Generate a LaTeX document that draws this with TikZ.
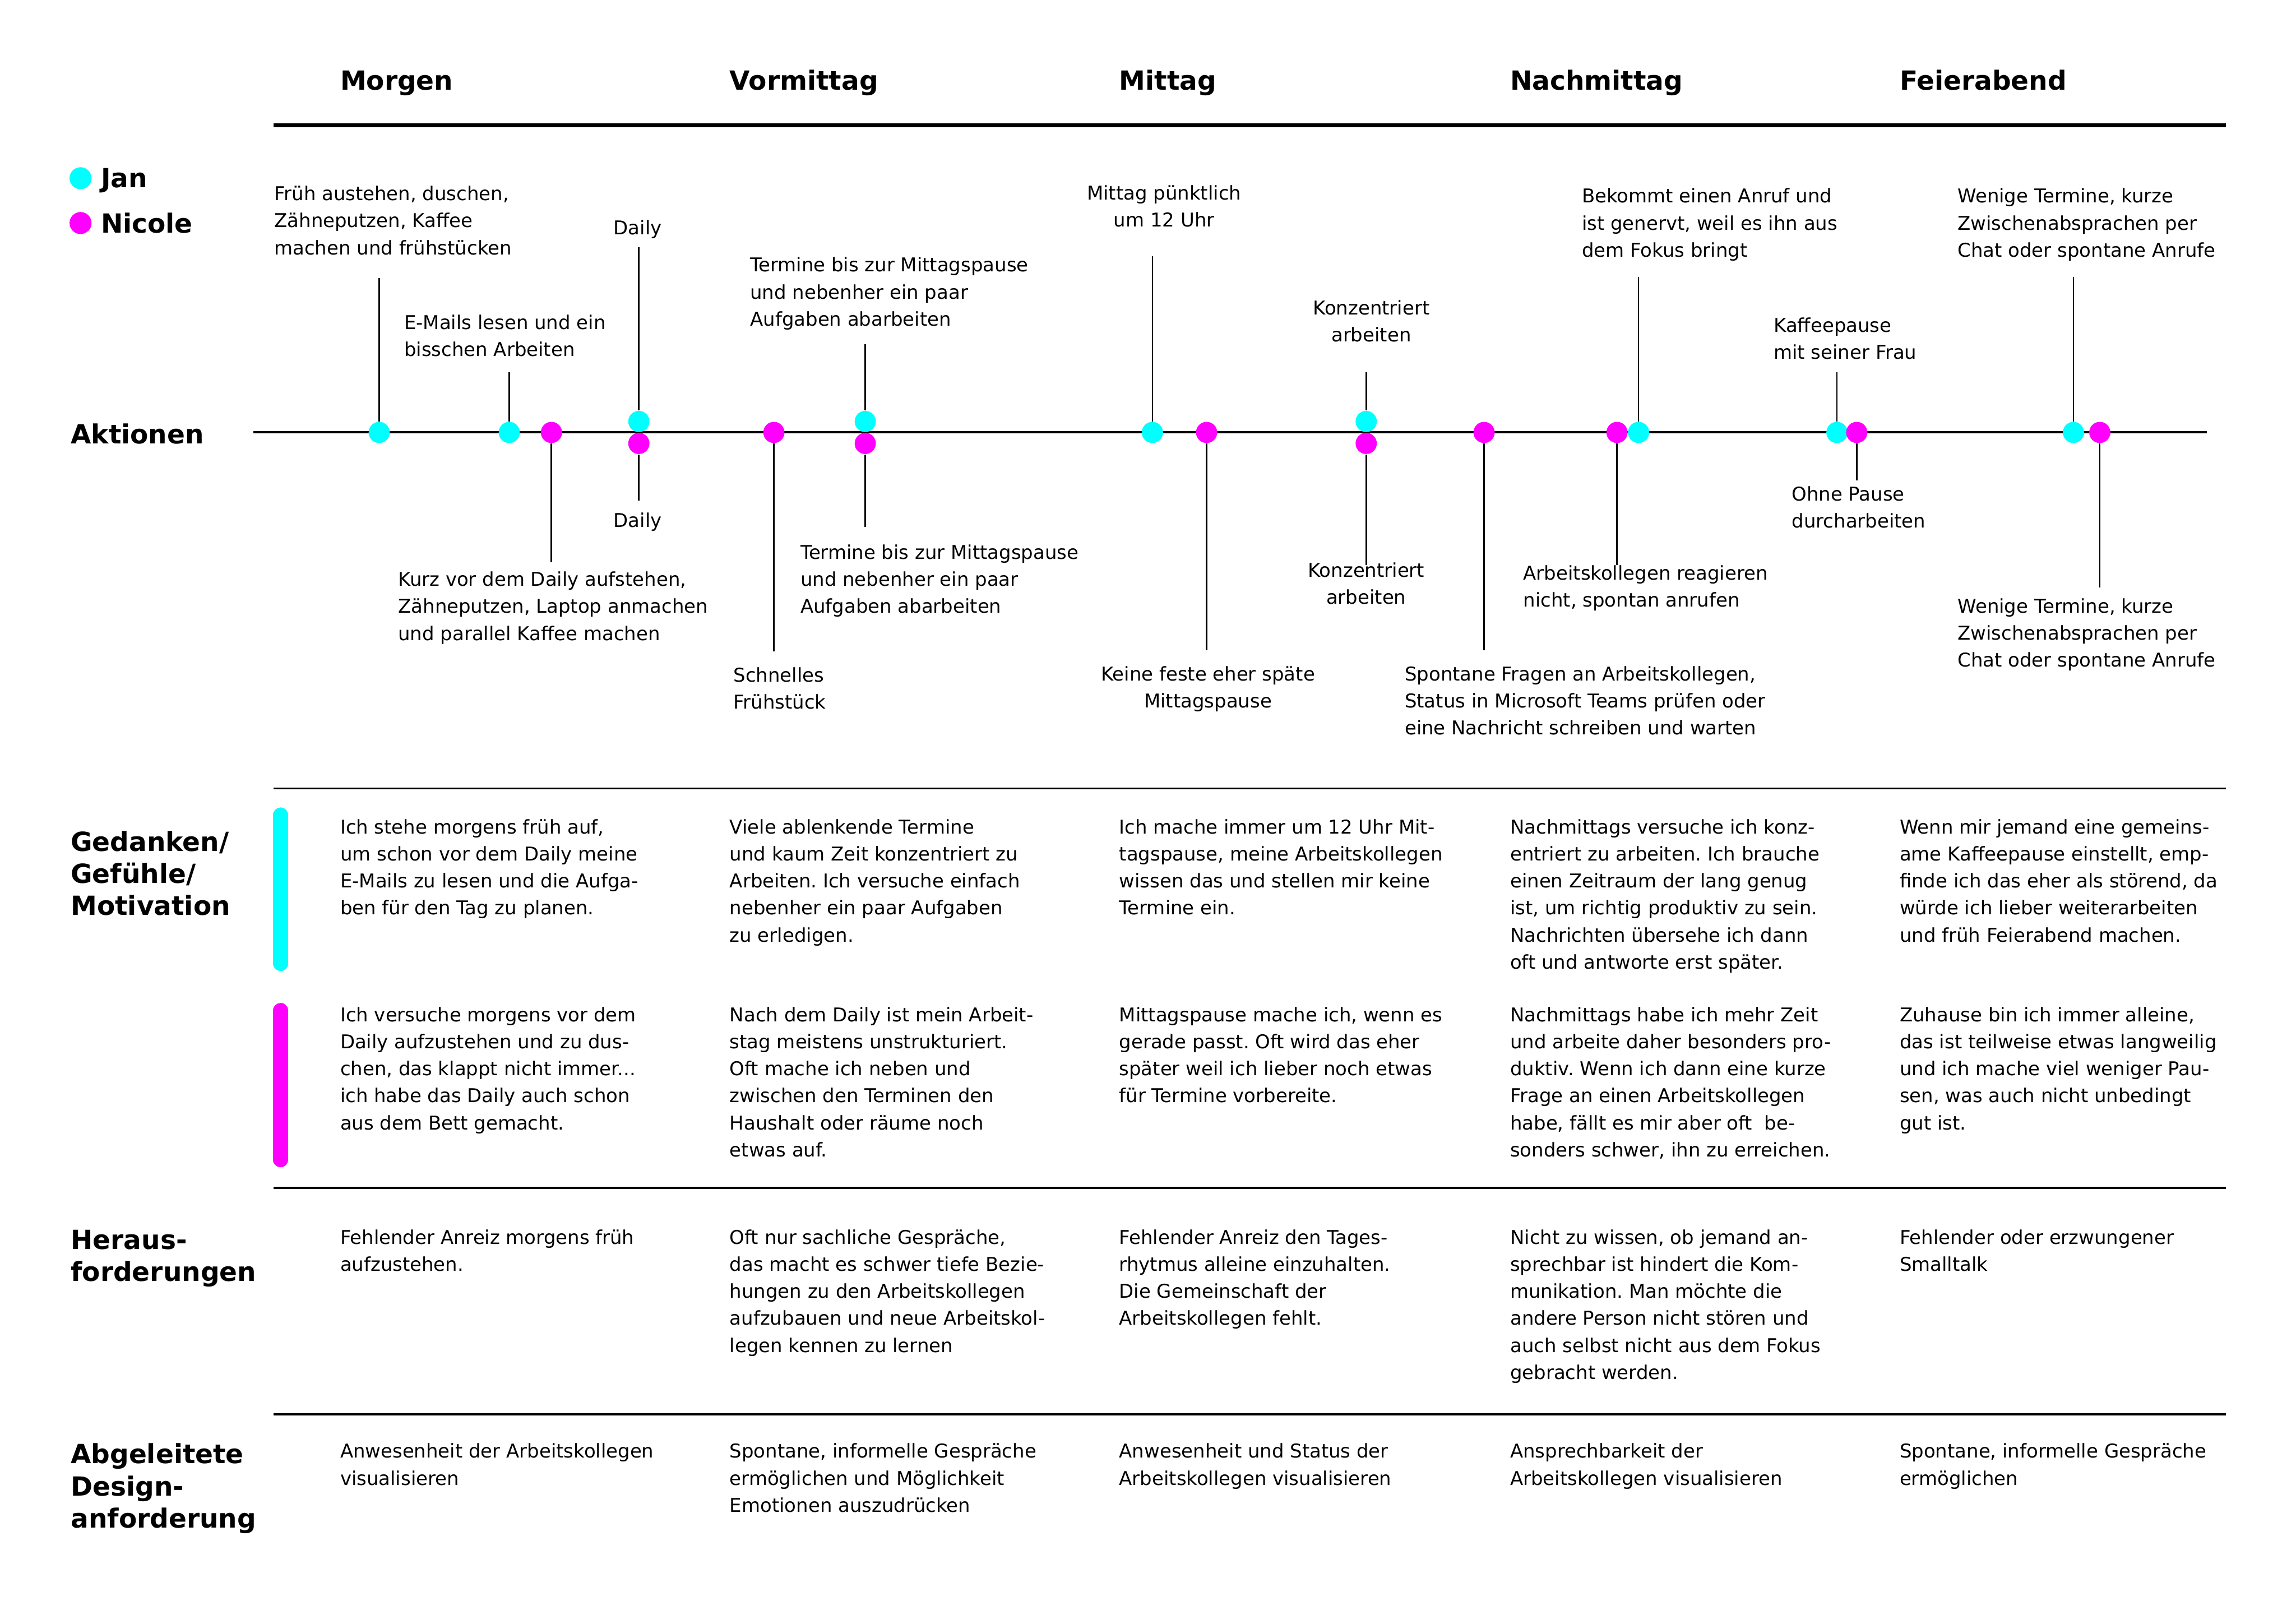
\documentclass[tikz,border=0pt]{standalone}
\usepackage{fontspec}
\setmainfont{DejaVu Sans}
\frenchspacing
\definecolor{jan}{HTML}{00FFFF}
\definecolor{nic}{HTML}{FF00FF}
\begin{document}
\frenchspacing
\begin{tikzpicture}[x=0.018941cm,y=-0.018941cm,
  body/.style={font=\fontsize{7}{9.95}\selectfont\frenchspacing, inner sep=0pt, align=left, anchor=north west},
  bodyc/.style={body, align=center, anchor=north},
  ttl/.style={font=\fontsize{9.7}{11.8}\selectfont\bfseries, inner sep=0pt, anchor=base west},
  ttlm/.style={font=\fontsize{9.7}{11.8}\selectfont\bfseries, inner sep=0pt, align=left, anchor=north west},
  jdot/.style={circle, fill=jan, inner sep=0pt, minimum size=7.8pt},
  ndot/.style={circle, fill=nic, inner sep=0pt, minimum size=7.8pt},
  ldotj/.style={circle, fill=jan, inner sep=0pt, minimum size=8.1pt},
  ldotn/.style={circle, fill=nic, inner sep=0pt, minimum size=8.1pt},
  conn/.style={line width=0.56pt},
  sepline/.style={line width=0.8pt},
  headline/.style={line width=1.43pt},
  tline/.style={line width=0.8pt},
  barj/.style={line width=5.5pt, line cap=round, draw=jan},
  barn/.style={line width=5.5pt, line cap=round, draw=nic}]
\path[use as bounding box] (0,0) rectangle (1568,1109);

% header
\node[ttl] (hMorgen) at (232,61.5) {Morgen};
\node[ttl] (hVorm) at (498,61.5) {Vormittag};
\node[ttl] (hMittag) at (764,61.5) {Mittag};
\node[ttl] (hNach) at (1031,61.5) {Nachmittag};
\node[ttl] (hFeier) at (1297,61.5) {Feierabend};
\coordinate (hl1) at (187,85.7);
\coordinate (hl2) at (1520,85.7);
\draw[headline] (hl1) -- (hl2);

% legend
\node[ldotj] (lj) at (55,121.7) {};
\node[ldotn] (ln) at (55,152.3) {};
\node[ttl] (ljt) at (68.6,128) {Jan};
\node[ttl] (lnt) at (68.6,158.9) {Nicole};

% Aktionen
\node[ttl] (akt) at (48,302.8) {Aktionen};
\coordinate (t1) at (173,295.3);
\coordinate (t2) at (1507,295.3);
\draw[tline] (t1) -- (t2);

% dots
\node[jdot] (j1) at (259,295.3) {};
\node[jdot] (j2) at (347.8,295.3) {};
\node[ndot] (n1) at (376.6,295.3) {};
\node[jdot] (j3) at (436.3,287.8) {};
\node[ndot] (n2) at (436.3,302.8) {};
\node[ndot] (n3) at (528.5,295.3) {};
\node[jdot] (j4) at (590.9,287.8) {};
\node[ndot] (n4) at (590.9,302.8) {};
\node[jdot] (j5) at (787,295.3) {};
\node[ndot] (n5) at (824,295.3) {};
\node[jdot] (j6) at (933,287.8) {};
\node[ndot] (n6) at (933,302.8) {};
\node[ndot] (n7) at (1013.5,295.3) {};
\node[ndot] (n8) at (1104.3,295.3) {};
\node[jdot] (j7) at (1119,295.3) {};
\node[jdot] (j8) at (1254.5,295.3) {};
\node[ndot] (n9) at (1268,295.3) {};
\node[jdot] (j9) at (1416,295.3) {};
\node[ndot] (n10) at (1434,295.3) {};

% connector ends
\coordinate (cj1) at (259,190);
\coordinate (cj2) at (347.8,254);
\coordinate (cn1) at (376.6,384);
\coordinate (cj3) at (436.3,169);
\coordinate (cn2) at (436.3,342);
\coordinate (cn3) at (528.5,445);
\coordinate (cj4) at (590.9,235);
\coordinate (cn4) at (590.9,360);
\coordinate (cj5) at (787,175);
\coordinate (cn5) at (824,444);
\coordinate (cj6) at (933,254);
\coordinate (cn6) at (933,386);
\coordinate (cn7) at (1013.5,444);
\coordinate (cn8) at (1104.3,386);
\coordinate (cj7) at (1119,189);
\coordinate (cj8) at (1254.5,254);
\coordinate (cn9) at (1268,328);
\coordinate (cj9) at (1416,189);
\coordinate (cn10) at (1434,401);
\foreach \a/\b in {j1/cj1,j2/cj2,n1/cn1,j3/cj3,n2/cn2,n3/cn3,j4/cj4,n4/cn4,j5/cj5,n5/cn5,j6/cj6,n6/cn6,n7/cn7,n8/cn8,j7/cj7,j8/cj8,n9/cn9,j9/cj9,n10/cn10}
  \draw[conn] (\a) -- (\b);

% action texts
\node[body] (a1) at (187,123.6) {\strut Früh austehen, duschen,\\Zähneputzen, Kaffee\\machen und frühstücken};
\node[body] (a2) at (275.7,211.5) {\strut E-Mails lesen und ein\\bisschen Arbeiten};
\node[bodyc] (a3) at (435.5,147) {\strut Daily};
\node[bodyc] (a4) at (435.5,346.7) {\strut Daily};
\node[body] (a5) at (271.6,387) {\strut Kurz vor dem Daily aufstehen,\\Zähneputzen, Laptop anmachen\\und parallel Kaffee machen};
\node[body] (a6) at (500.6,452.3) {\strut Schnelles\\Frühstück};
\node[body] (a7) at (512,172.3) {\strut Termine bis zur Mittagspause\\und nebenher ein paar\\Aufgaben abarbeiten};
\node[body] (a8) at (546.3,368.5) {\strut Termine bis zur Mittagspause\\und nebenher ein paar\\Aufgaben abarbeiten};
\node[bodyc] (a9) at (795,123) {\strut Mittag pünktlich\\um 12 Uhr};
\node[bodyc] (a10) at (825,451.5) {\strut Keine feste eher späte\\Mittagspause};
\node[bodyc] (a11) at (936.5,201.7) {\strut Konzentriert\\arbeiten};
\node[bodyc] (a12) at (933,380.8) {\strut Konzentriert\\arbeiten};
\node[body] (a13) at (959,451.5) {\strut Spontane Fragen an Arbeitskollegen,\\Status in Microsoft Teams prüfen oder\\eine Nachricht schreiben und warten};
\node[body] (a14) at (1080,125.2) {\strut Bekommt einen Anruf und\\ist genervt, weil es ihn aus\\dem Fokus bringt};
\node[body] (a15) at (1040,382.6) {\strut Arbeitskollegen reagieren\\nicht, spontan anrufen};
\node[body] (a16) at (1211,213.5) {\strut Kaffeepause\\mit seiner Frau};
\node[body] (a17) at (1223.3,328.8) {\strut Ohne Pause\\durcharbeiten};
\node[body] (a18) at (1336.6,125.2) {\strut Wenige Termine, kurze\\Zwischenabsprachen per\\Chat oder spontane Anrufe};
\node[body] (a19) at (1336.6,405.2) {\strut Wenige Termine, kurze\\Zwischenabsprachen per\\Chat oder spontane Anrufe};

% separators
\coordinate (s1a) at (187,538.4); \coordinate (s1b) at (1520,538.4);
\coordinate (s2a) at (187,811); \coordinate (s2b) at (1520,811);
\coordinate (s3a) at (187,965.8); \coordinate (s3b) at (1520,965.8);
\draw[sepline] (s1a) -- (s1b);
\draw[sepline] (s2a) -- (s2b);
\draw[sepline] (s3a) -- (s3b);

% Gedanken section
\node[ttlm] (gLab) at (48,565.6) {\strut Gedanken/\\Gefühle/\\Motivation};
\coordinate (bj1) at (191.7,556.5); \coordinate (bj2) at (191.7,658);
\coordinate (bn1) at (191.7,690); \coordinate (bn2) at (191.7,792);
\draw[barj] (bj1) -- (bj2);
\draw[barn] (bn1) -- (bn2);

\node[body] (g1) at (232,556) {\strut Ich stehe morgens früh auf,\\um schon vor dem Daily meine\\E-Mails zu lesen und die Aufga-\\ben für den Tag zu planen.};
\node[body] (g2) at (498,556) {\strut Viele ablenkende Termine\\und kaum Zeit konzentriert zu\\Arbeiten. Ich versuche einfach\\nebenher ein paar Aufgaben\\zu erledigen.};
\node[body] (g3) at (764,556) {\strut Ich mache immer um 12 Uhr Mit-\\tagspause, meine Arbeitskollegen\\wissen das und stellen mir keine\\Termine ein.};
\node[body] (g4) at (1031,556) {\strut Nachmittags versuche ich konz-\\entriert zu arbeiten. Ich brauche\\einen Zeitraum der lang genug\\ist, um richtig produktiv zu sein.\\Nachrichten übersehe ich dann\\oft und antworte erst später.};
\node[body] (g5) at (1297,556) {\strut Wenn mir jemand eine gemeins-\\ame Kaffeepause einstellt, emp-\\finde ich das eher als störend, da\\würde ich lieber weiterarbeiten\\und früh Feierabend machen.};

\node[body] (m1) at (232,684.2) {\strut Ich versuche morgens vor dem\\Daily aufzustehen und zu dus-\\chen, das klappt nicht immer...\\ich habe das Daily auch schon\\aus dem Bett gemacht.};
\node[body] (m2) at (498,684.2) {\strut Nach dem Daily ist mein Arbeit-\\stag meistens unstrukturiert.\\Oft mache ich neben und\\zwischen den Terminen den\\Haushalt oder räume noch\\etwas auf.};
\node[body] (m3) at (764,684.2) {\strut Mittagspause mache ich, wenn es\\gerade passt. Oft wird das eher\\später weil ich lieber noch etwas\\für Termine vorbereite.};
\node[body] (m4) at (1031,684.2) {\strut Nachmittags habe ich mehr Zeit\\und arbeite daher besonders pro-\\duktiv. Wenn ich dann eine kurze\\Frage an einen Arbeitskollegen\\habe, fällt es mir aber oft~ be-\\sonders schwer, ihn zu erreichen.};
\node[body] (m5) at (1297,684.2) {\strut Zuhause bin ich immer alleine,\\das ist teilweise etwas langweilig\\und ich mache viel weniger Pau-\\sen, was auch nicht unbedingt\\gut ist.};

% Herausforderungen
\node[ttlm] (hLab) at (48,837.4) {\strut Heraus-\\forderungen};
\node[body] (h1) at (232,836.2) {\strut Fehlender Anreiz morgens früh\\aufzustehen.};
\node[body] (h2) at (498,836.2) {\strut Oft nur sachliche Gespräche,\\das macht es schwer tiefe Bezie-\\hungen zu den Arbeitskollegen\\aufzubauen und neue Arbeitskol-\\legen kennen zu lernen};
\node[body] (h3) at (764,836.2) {\strut Fehlender Anreiz den Tages-\\rhytmus alleine einzuhalten.\\Die Gemeinschaft der\\Arbeitskollegen fehlt.};
\node[body] (h4) at (1031,836.2) {\strut Nicht zu wissen, ob jemand an-\\sprechbar ist hindert die Kom-\\munikation. Man möchte die\\andere Person nicht stören und\\auch selbst nicht aus dem Fokus\\gebracht werden.};
\node[body] (h5) at (1297,836.2) {\strut Fehlender oder erzwungener\\Smalltalk};

% Abgeleitete Designanforderung
\node[ttlm] (dLab) at (48,983.8) {\strut Abgeleitete\\Design-\\anforderung};
\node[body] (d1) at (232,982.3) {\strut Anwesenheit der Arbeitskollegen\\visualisieren};
\node[body] (d2) at (498,982.3) {\strut Spontane, informelle Gespräche\\ermöglichen und Möglichkeit\\Emotionen auszudrücken};
\node[body] (d3) at (764,982.3) {\strut Anwesenheit und Status der\\Arbeitskollegen visualisieren};
\node[body] (d4) at (1031,982.3) {\strut Ansprechbarkeit der\\Arbeitskollegen visualisieren};
\node[body] (d5) at (1297,982.3) {\strut Spontane, informelle Gespräche\\ermöglichen};
\end{tikzpicture}
\end{document}
